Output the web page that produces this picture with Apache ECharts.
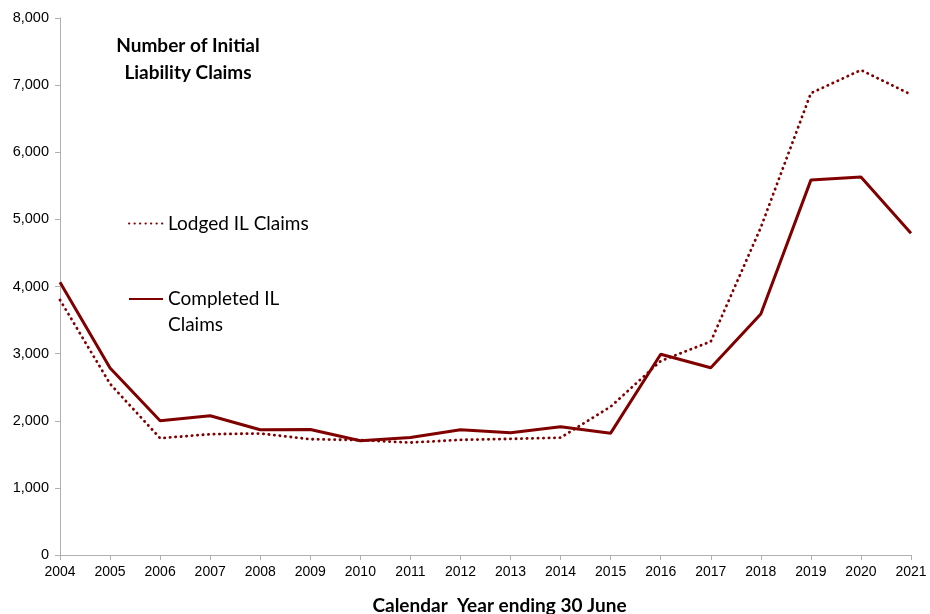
<!DOCTYPE html>
<html>
<head>
<meta charset="utf-8">
<script src="https://cdn.jsdelivr.net/npm/echarts@6/dist/echarts.min.js"></script>
<style>
  html, body { margin: 0; padding: 0; background: #fff; }
  #chart { width: 930px; height: 614px; }
</style>
</head>
<body>
<div id="chart"></div>
<script>
// Financial years ending 30 June
const years = ['2004','2005','2006','2007','2008','2009','2010','2011','2012','2013',
               '2014','2015','2016','2017','2018','2019','2020','2021'];

// Initial liability claims lodged per year
const lodgedClaims = [3800, 2550, 1740, 1800, 1810, 1725, 1712, 1675, 1715, 1730,
                      1748, 2210, 2890, 3180, 4880, 6880, 7225, 6860];

// Initial liability claims completed per year
const completedClaims = [4065, 2785, 2000, 2075, 1865, 1870, 1703, 1752, 1865, 1822,
                         1912, 1815, 2990, 2790, 3590, 5585, 5630, 4795];

const yTicks = { min: 0, max: 8000, interval: 1000 };

const RED = '#800000';
const FONT = '"Liberation Sans", Arial, sans-serif';
const TITLE_FONT = 'Lato, "Open Sans", sans-serif';

const fmt = v => v.toLocaleString('en-US');

// round dots for the lodged series
const dotted = { color: RED, width: 2.8, type: [0.3, 5.2], cap: 'round' };

const chart = echarts.init(document.getElementById('chart'));
chart.setOption({
  animation: false,
  backgroundColor: '#ffffff',
  title: {
    text: 'Number of Initial\nLiability Claims',
    left: 188,
    top: 32,
    padding: 0,
    textAlign: 'center',
    textStyle: {
      fontFamily: TITLE_FONT,
      fontWeight: 'bold',
      fontSize: 19,
      lineHeight: 27,
      color: '#000'
    }
  },
  legend: [
    {
      data: ['Lodged IL Claims'],
      left: 128,
      top: 214,
      padding: 0,
      itemWidth: 34,
      itemHeight: 22,
      itemStyle: { opacity: 0 },
      textStyle: { fontFamily: TITLE_FONT, fontSize: 19, color: '#000' }
    },
    {
      data: ['Completed IL Claims'],
      left: 128,
      top: 260,
      padding: 0,
      itemWidth: 34,
      itemHeight: 22,
      itemStyle: { opacity: 0 },
      // blank first line keeps the icon level with "Completed IL"
      formatter: () => ' \nCompleted IL\nClaims',
      textStyle: {
        fontFamily: TITLE_FONT,
        fontSize: 19,
        lineHeight: 26,
        color: '#000'
      }
    }
  ],
  grid: { left: 60, right: 19, top: 18, bottom: 59, containLabel: false, outerBoundsMode: 'none' },
  xAxis: {
    type: 'category',
    data: years,
    boundaryGap: false,
    name: 'Calendar  Year ending 30 June',
    nameLocation: 'middle',
    nameGap: 41,
    nameTextStyle: {
      fontFamily: TITLE_FONT,
      fontWeight: 'bold',
      fontSize: 19,
      color: '#000',
      padding: [0, 0, 0, 28]
    },
    axisLine: { lineStyle: { color: '#b0b0b0', width: 1 } },
    axisTick: { show: true, length: 5, lineStyle: { color: '#b0b0b0' } },
    axisLabel: { fontFamily: FONT, fontSize: 14, color: '#000', margin: 10 },
    splitLine: { show: false }
  },
  yAxis: {
    type: 'value',
    min: yTicks.min,
    max: yTicks.max,
    interval: yTicks.interval,
    axisLine: { show: true, lineStyle: { color: '#b0b0b0', width: 1 } },
    axisTick: { show: true, length: 5, lineStyle: { color: '#b0b0b0' } },
    axisLabel: { fontFamily: FONT, fontSize: 14.5, color: '#000', margin: 11, formatter: fmt },
    splitLine: { show: false }
  },
  series: [
    {
      name: 'Lodged IL Claims',
      type: 'line',
      data: lodgedClaims,
      symbol: 'none',
      color: RED,
      lineStyle: dotted,
      z: 2
    },
    {
      name: 'Completed IL Claims',
      type: 'line',
      data: completedClaims,
      symbol: 'none',
      color: RED,
      lineStyle: { color: RED, width: 3, type: 'solid' },
      z: 3
    }
  ]
});
</script>
</body>
</html>
